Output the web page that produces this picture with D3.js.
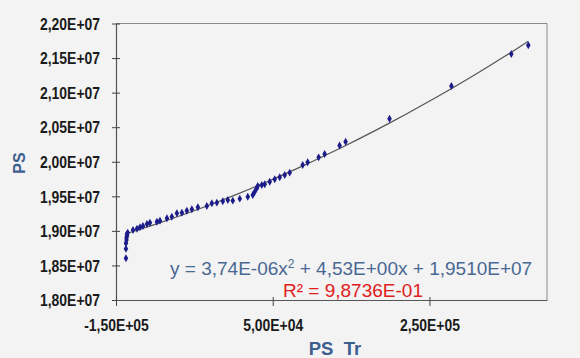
<!DOCTYPE html>
<html>
<head>
<meta charset="utf-8">
<script src="https://cdn.jsdelivr.net/npm/d3@7"></script>
<style>
  body { margin: 0; background: #f3f3f3; }
  svg { display: block; font-family: 'Liberation Sans', Arial, sans-serif; }
</style>
</head>
<body>
<div class="container"></div>
<script>
// PS Tr values (x) and PS values (y)
const psTr = [
  -137300, -137300, -137300, -136600, -136600, -136000, -136000, -135000,
  -128300, -123200, -119400, -115600, -110500, -106700, -97800, -93900,
  -85000, -78700, -72300, -65900, -59600, -53200, -45500, -34100,
  -27700, -21300, -13700, -7300, -950, 7960, 18160, 24520,
  27070, 29620, 30890, 35990, 39810, 46180, 52550, 58920,
  65290, 71660, 88220, 94590, 108600, 116250, 135350, 143000,
  199050, 278030, 354460, 376120
];
const ps = [
  18603000, 18740000, 18820000, 18868000, 18900000, 18930000, 18955000, 18974000,
  19013000, 19031000, 19052000, 19071000, 19099000, 19118000, 19133000, 19147000,
  19182000, 19205000, 19254000, 19263000, 19292000, 19312000, 19341000, 19360000,
  19399000, 19408000, 19428000, 19447000, 19437000, 19466000, 19494000, 19519000,
  19567000, 19616000, 19649000, 19664000, 19674000, 19711000, 19746000, 19775000,
  19808000, 19842000, 19953000, 19992000, 20064000, 20112000, 20235000, 20290000,
  20623000, 21096000, 21559000, 21685000
];

// trend line coefficients shown on the chart
const trendCoef = [3.74e-6, 4.53, 1.951e7];
const trendSteps = [
  -137300, -120000, -100000, -80000, -60000, -40000, -20000, 0, 20000, 40000,
  60000, 80000, 100000, 120000, 140000, 160000, 180000, 200000, 220000, 240000,
  260000, 280000, 300000, 320000, 340000, 360000, 376120
];

const xTicks = [-150000, 50000, 250000];
const yTicks = [1.8e7, 1.85e7, 1.9e7, 1.95e7, 2.0e7, 2.05e7, 2.1e7, 2.15e7, 2.2e7];

const eqText = ['y = 3,74E-06x', '2', ' + 4,53E+00x + 1,9510E+07'];
const r2Text = 'R² = 9,8736E-01';

// Excel-style scientific format with comma: 2,20E+07
const sci = v => {
  const [m, e] = v.toExponential(2).split('e');
  const n = Math.abs(+e);
  return `${m.replace('.', ',')}E${+e < 0 ? '-' : '+'}${n < 10 ? '0' + n : n}`;
};

const width = 580;
const height = 358;
const plotLeft = 116, plotRight = 547, plotTop = 23.5, plotBottom = 300;

const svg = d3.select('.container').append('svg').attr('width', width).attr('height', height);

const xScale = d3.scaleLinear().domain([-150000, 400000]).range([plotLeft, plotRight]);
const yScale = d3.scaleLinear().domain([1.8e7, 2.2e7]).range([plotBottom, plotTop]);

// plot frame (top and right)
svg.append('path')
  .attr('d', `M${plotLeft},${plotTop}H${plotRight}V${plotBottom}`)
  .attr('fill', 'none')
  .attr('stroke', '#8a8a8a')
  .attr('stroke-width', 1);

const leftAxisGroup = svg.append('g').attr('transform', `translate(${plotLeft},0)`);
d3.axisLeft(yScale).tickValues(yTicks).tickFormat(sci).tickSizeInner(4).tickSizeOuter(0).tickPadding(12)(leftAxisGroup);
leftAxisGroup.selectAll('.tick line').attr('x1', 4).attr('x2', -4);
leftAxisGroup.selectAll('.tick text').attr('dy', '0.36em');

const bottomAxisGroup = svg.append('g').attr('transform', `translate(0,${plotBottom})`);
d3.axisBottom(xScale).tickValues(xTicks).tickFormat(sci).tickSizeInner(6).tickSizeOuter(0).tickPadding(14)(bottomAxisGroup);
bottomAxisGroup.selectAll('.tick line').attr('y1', -3).attr('y2', 6);

svg.selectAll('.domain').attr('stroke', '#555').attr('stroke-width', 1.2);
svg.selectAll('.tick line').attr('stroke', '#444');
svg.selectAll('.tick text')
  .attr('fill', '#1a1a1a')
  .attr('font-size', 16)
  .attr('font-weight', 'bold')
  .attr('font-family', "'Liberation Sans', Arial, sans-serif")
  .each(function () {
    // the labels in the picture are a bit narrower than plain Arial bold
    const w = this.getComputedTextLength();
    d3.select(this).attr('textLength', w * 0.87).attr('lengthAdjust', 'spacingAndGlyphs');
  });

// trend line
const line = d3.line()
  .x(d => xScale(d))
  .y(d => yScale(trendCoef[0] * d * d + trendCoef[1] * d + trendCoef[2]))
  .curve(d3.curveMonotoneX);

svg.append('path')
  .attr('d', line(trendSteps))
  .attr('fill', 'none')
  .attr('stroke', '#555')
  .attr('stroke-width', 1.2);

// points
const points = psTr.map((x, i) => ({ x, y: ps[i] }));
svg.append('g')
  .selectAll('path')
  .data(points)
  .enter()
  .append('path')
  .attr('d', d3.symbol(d3.symbolDiamond, 18))
  .attr('transform', d => `translate(${xScale(d.x)},${yScale(d.y)})`)
  .attr('fill', '#1c1c8a');

// equation
const eq = svg.append('text')
  .attr('x', 170)
  .attr('y', 275)
  .attr('font-size', 19)
  .attr('fill', '#4a6894');
eq.append('tspan').text(eqText[0]);
eq.append('tspan').attr('dy', -7).attr('font-size', 12).text(eqText[1]);
eq.append('tspan').attr('dy', 7).text(eqText[2]);

svg.append('text')
  .attr('x', 283)
  .attr('y', 297)
  .attr('font-size', 19)
  .attr('fill', '#e02020')
  .text(r2Text);

// axis titles
svg.append('text')
  .text('PS\u00a0\u00a0Tr')
  .attr('x', 335)
  .attr('y', 355)
  .attr('text-anchor', 'middle')
  .attr('font-size', 18.5)
  .attr('font-weight', 'bold')
  .attr('fill', '#3d5f8f');

svg.append('text')
  .text('PS')
  .attr('transform', 'translate(25,163) rotate(-90)')
  .attr('text-anchor', 'middle')
  .attr('font-size', 16)
  .attr('font-weight', 'bold')
  .attr('fill', '#3d5f8f');
</script>
</body>
</html>
